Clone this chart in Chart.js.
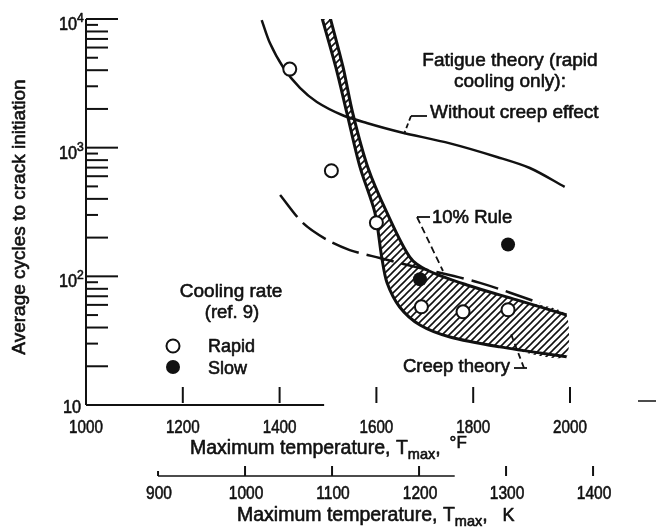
<!DOCTYPE html>
<html><head><meta charset="utf-8">
<script src="https://cdn.jsdelivr.net/npm/chart.js@4.4.1/dist/chart.umd.min.js"></script>
<style>html,body{margin:0;padding:0;background:#fff}canvas{display:block}</style>
</head><body>
<canvas id="c" width="658" height="532"></canvas>
<script>
// ---------- data ----------
const fahrenheitTicks = [1000, 1200, 1400, 1600, 1800, 2000];
const kelvinTicks = [900, 1000, 1100, 1200, 1300, 1400];
const cycleDecades = [10, 100, 1000, 10000];

const rapidTempF = [1421, 1507, 1600, 1693, 1779, 1872];
const rapidCycles = [4080, 662, 261, 58, 53, 55];
const slowTempF = [1690, 1872];
const slowCycles = [95, 177];

const fatigueTempF = [1363, 1380, 1407, 1442, 1477, 1529, 1580, 1648, 1752, 1849, 1917, 1989];
const fatigueCycles = [9800, 6500, 4235, 2910, 2265, 1795, 1556, 1325, 1080, 847, 695, 496];

const tenPctTempF = [1401, 1448, 1498, 1545, 1607, 1690, 1814, 1938];
const tenPctCycles = [429, 260, 192, 160, 139, 116, 89, 62];

const creepUpperTempF = [1504, 1531, 1551, 1582, 1622, 1669, 1704, 1787, 1890, 1993];
const creepUpperCycles = [10400, 4240, 1862, 708, 311, 141, 112, 85.7, 65.6, 50.1];
const creepLowerTempF = [1487, 1516, 1539, 1566, 1597, 1611, 1622, 1648, 1690, 1752, 1855, 1993];
const creepLowerCycles = [10400, 4240, 1862, 708, 311, 141, 89, 57.8, 41.9, 33.8, 28.3, 23.7];

// ---------- helpers ----------
const INK = '#111';
const FONT = '"Liberation Sans", Arial, sans-serif';
const pts = (xs, ys) => xs.map((x, i) => ({x, y: ys[i]}));
const upper = pts(creepUpperTempF, creepUpperCycles);
const lower = pts(creepLowerTempF, creepLowerCycles);
const bandShape = upper.concat(lower.slice().reverse());

function hatchPattern() {
  const c = document.createElement('canvas');
  c.width = 7; c.height = 7;
  const g = c.getContext('2d');
  g.strokeStyle = INK; g.lineWidth = 1.6;
  g.beginPath();
  g.moveTo(-1, 8); g.lineTo(8, -1);
  g.moveTo(-1, 1); g.lineTo(1, -1);
  g.moveTo(6, 8); g.lineTo(8, 6);
  g.stroke();
  return g.createPattern(c, 'repeat');
}

function seg(ctx, x1, y1, x2, y2, w, dash) {
  ctx.save();
  ctx.lineWidth = w || 2;
  ctx.setLineDash(dash || []);
  ctx.beginPath(); ctx.moveTo(x1, y1); ctx.lineTo(x2, y2); ctx.stroke();
  ctx.restore();
}
function txt(ctx, s, x, y, size, align, sx) {
  ctx.save();
  ctx.font = size + 'px ' + FONT;
  ctx.textAlign = align || 'left';
  ctx.textBaseline = 'alphabetic';
  ctx.translate(x, y); ctx.scale(sx || 1, 1);
  ctx.lineWidth = 0.6; ctx.lineJoin = 'round';
  ctx.fillText(s, 0, 0);
  ctx.strokeText(s, 0, 0);
  ctx.restore();
}
function tw(ctx, s, size, sx) {
  ctx.save(); ctx.font = size + 'px ' + FONT;
  const w = ctx.measureText(s).width * (sx || 1);
  ctx.restore(); return w;
}
function runs(ctx, x, y, parts) {
  let cx = x;
  for (const p of parts) {
    cx += p.gap || 0;
    txt(ctx, p.t, cx, y + (p.dy || 0), p.size);
    cx += tw(ctx, p.t, p.size);
  }
}

const decor = {
  id: 'decor',
  afterDraw(chart) {
    const ctx = chart.ctx;
    const xs = chart.scales.x, ys = chart.scales.y, ks = chart.scales.xK;
    const {left, top, bottom} = chart.chartArea;
    ctx.save();
    ctx.strokeStyle = INK; ctx.fillStyle = INK; ctx.lineCap = 'butt';

    // ---- y axis (log) ----
    seg(ctx, left, top, left, bottom, 2);
    const longMinor = [2, 4, 6, 7, 8];
    cycleDecades.forEach((d, i) => {
      const py = ys.getPixelForValue(d);
      if (i > 0) seg(ctx, left, py, left + 32, py, 2);
      if (d < 10000) {
        for (let m = 2; m <= 9; m++) {
          const my = ys.getPixelForValue(m * d);
          seg(ctx, left, my, left + (longMinor.includes(m) ? 22 : 12), my, 2);
        }
      }
      if (d === 10) {
        txt(ctx, '10', left - 5, py + 8, 18.5, 'right', 0.88);
      } else {
        txt(ctx, '10', left - 9, py + 11, 18.5, 'right', 0.88);
        txt(ctx, String(Math.round(Math.log10(d))), left - 9, py + 3, 13.5, 'left', 0.9);
      }
    });
    ctx.save();
    ctx.translate(19, 217); ctx.rotate(-Math.PI / 2);
    txt(ctx, 'Average cycles to crack initiation', 0, 6, 19, 'center');
    ctx.restore();

    // ---- x axis (deg F) ----
    seg(ctx, left, bottom, xs.getPixelForValue(1492), bottom, 2);
    fahrenheitTicks.forEach(f => {
      const px = xs.getPixelForValue(f);
      if (f > fahrenheitTicks[0]) seg(ctx, px, bottom - 18, px, bottom - 2, 2);
      txt(ctx, String(f), px, 433, 19, 'center', 0.8);
    });
    seg(ctx, 638, 401, 656, 401, 1.5);
    runs(ctx, 190, 454, [
      {t: 'Maximum temperature, T', size: 19.5},
      {t: 'max', size: 14.5, dy: 5},
      {t: ',', size: 19.5},
      {t: '\u00B0F', size: 17, dy: -6, gap: 9}
    ]);

    // ---- second x axis (K) ----
    const ky = 476;
    seg(ctx, ks.getPixelForValue(900), ky, ks.getPixelForValue(1241), ky, 1.5);
    kelvinTicks.forEach(k => {
      const px = ks.getPixelForValue(k);
      seg(ctx, px, k === 900 ? ky - 5 : ky - 10, px, ky, 2);
      txt(ctx, String(k), px + 1, 499, 18.5, 'center', 0.84);
    });
    runs(ctx, 237, 521, [
      {t: 'Maximum temperature, T', size: 19.5},
      {t: 'max', size: 14.5, dy: 5},
      {t: ',', size: 19.5},
      {t: 'K', size: 18, gap: 15}
    ]);

    // ---- annotations ----
    txt(ctx, 'Fatigue theory (rapid', 510, 66, 19, 'center');
    txt(ctx, 'cooling only):', 510, 87, 19, 'center');
    txt(ctx, 'Without creep effect', 430, 118, 19, 'left');
    seg(ctx, 427, 116, 411, 116, 1.8);
    seg(ctx, 411, 116, 404, 134, 1.8, [5, 3]);

    txt(ctx, '10% Rule', 432, 223, 18.5, 'left');
    seg(ctx, 430, 217, 417, 217, 1.8);
    seg(ctx, 417, 217, 443, 271, 1.8, [7, 4]);

    txt(ctx, 'Creep theory', 403, 372, 18.5, 'left');
    seg(ctx, 514, 368, 527, 368, 1.8);
    seg(ctx, 524, 368, 511, 334, 1.8, [6, 4]);

    // ---- legend ----
    txt(ctx, 'Cooling rate', 231, 297, 19, 'center');
    txt(ctx, '(ref. 9)', 232, 318, 18.5, 'center');
    ctx.lineWidth = 2;
    ctx.beginPath(); ctx.arc(173, 346, 6.5, 0, Math.PI * 2);
    ctx.fillStyle = '#fff'; ctx.fill(); ctx.stroke();
    ctx.fillStyle = INK;
    ctx.beginPath(); ctx.arc(173, 367, 7, 0, Math.PI * 2); ctx.fill();
    txt(ctx, 'Rapid', 208, 352, 18, 'left');
    txt(ctx, 'Slow', 208, 374, 18, 'left');
    ctx.restore();
  }
};

new Chart(document.getElementById('c'), {
  type: 'line',
  data: {
    datasets: [
      {label: 'Rapid', data: pts(rapidTempF, rapidCycles), showLine: false,
       pointRadius: 6.5, pointBackgroundColor: '#fff', pointBorderColor: INK, pointBorderWidth: 2},
      {label: 'Slow', data: pts(slowTempF, slowCycles), showLine: false,
       pointRadius: 7, pointBackgroundColor: INK, pointBorderColor: INK, pointBorderWidth: 0},
      {label: 'Without creep effect', data: pts(fatigueTempF, fatigueCycles),
       borderColor: INK, borderWidth: 2.5, pointRadius: 0, tension: 0.3, fill: false},
      {label: '10% Rule', data: pts(tenPctTempF, tenPctCycles), borderDash: [28, 8],
       borderColor: INK, borderWidth: 2.5, pointRadius: 0, tension: 0.3, fill: false},
      {label: 'Creep theory (upper)', data: upper,
       borderColor: INK, borderWidth: 3, pointRadius: 0, tension: 0.3, fill: false},
      {label: 'Creep theory (lower)', data: lower,
       borderColor: INK, borderWidth: 3, pointRadius: 0, tension: 0.3, fill: false},
      {label: 'Creep theory band', data: bandShape,
       borderColor: 'transparent', borderWidth: 0, pointRadius: 0, tension: 0.3,
       fill: 'shape', backgroundColor: hatchPattern()}
    ]
  },
  options: {
    responsive: false,
    animation: false,
    events: [],
    layout: {padding: {left: 86, top: 19, right: 88, bottom: 127}},
    plugins: {legend: {display: false}, tooltip: {enabled: false}, title: {display: false}},
    scales: {
      x: {type: 'linear', min: fahrenheitTicks[0], max: fahrenheitTicks[fahrenheitTicks.length - 1], display: false},
      xK: {type: 'linear', axis: 'x', position: 'bottom', min: 817.2, max: 1373.5, display: false},
      y: {type: 'logarithmic', min: cycleDecades[0], max: cycleDecades[cycleDecades.length - 1], display: false}
    }
  },
  plugins: [decor]
});
</script>
</body></html>
